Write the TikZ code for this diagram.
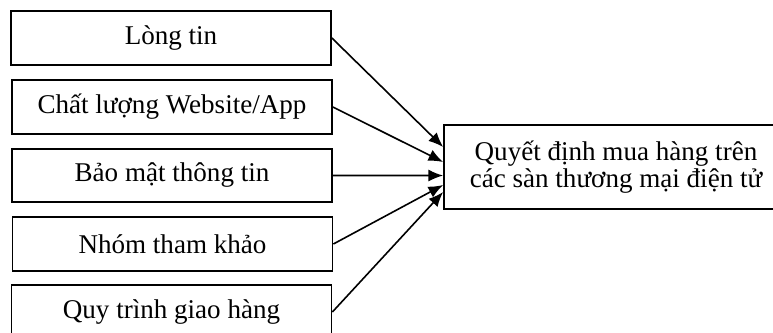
\documentclass[tikz,border=0pt]{standalone}
\usepackage{fontspec}
\setmainfont{Liberation Serif}
\usetikzlibrary{arrows.meta, calc, positioning}

\begin{document}
\begin{tikzpicture}[x=0.75pt, y=-0.75pt,
  factor/.style={draw, line width=1.3pt, minimum width=240pt, minimum height=40pt,
    inner sep=0pt, font=\fontsize{20.3}{24}\selectfont},
  result/.style={draw, line width=1.3pt, minimum width=258pt, minimum height=63pt,
    inner sep=0pt, align=center, font=\fontsize{20.3}{20.5}\selectfont},
  link/.style={line width=1.2pt, -{Latex[length=11pt, width=9pt]}}]
  \useasboundingbox (0,0) rectangle (773,332);

  % factors on the left
  \node[factor] (trust) at (171,38) {Lòng tin};
  \node[factor] (quality) at (172,107) {Chất lượng Website/App};
  \node[factor] (security) at (172,175.5) {Bảo mật thông tin};
  \node[factor] (reference) at (172.5,244) {Nhóm tham khảo};
  \node[factor] (delivery) at (171.5,312) {Quy trình giao hàng};

  % decision box on the right
  \node[result] (decision) at (616,167) {Quyết định mua hàng trên\\các sàn thương mại điện tử};

  % arrows into the decision
  \draw[link] (trust.east) -- ([yshift=15pt]decision.west);
  \draw[link] (quality.east) -- ([yshift=3.75pt]decision.west);
  \draw[link] (security.east) -- ([yshift=-6.4pt]decision.west);
  \draw[link] (reference.east) -- ([yshift=-13.5pt]decision.west);
  \draw[link] (delivery.east) -- ([yshift=-18.75pt]decision.west);
\end{tikzpicture}
\end{document}
